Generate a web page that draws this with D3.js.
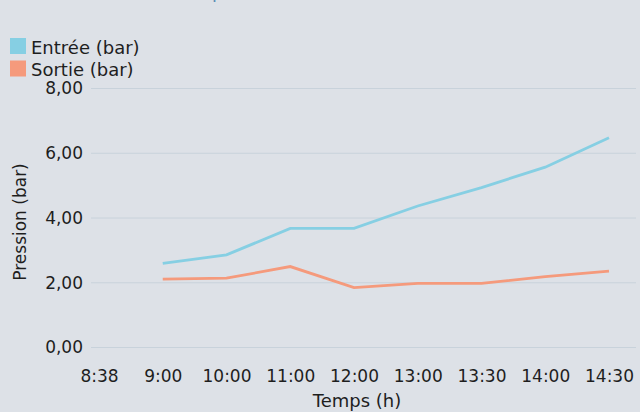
<!DOCTYPE html>
<html>
<head>
<meta charset="utf-8">
<script src="https://cdn.jsdelivr.net/npm/d3@7"></script>
<style>
  html, body { margin: 0; padding: 0; background: #dde1e7; }
  svg { display: block; }
  text { font-family: "Century Gothic", "DejaVu Sans", sans-serif; fill: #1e1e1e; }
</style>
</head>
<body>
<svg id="chart" width="640" height="412"></svg>
<script>
// Time labels along the x axis (first slot carries no reading)
const times = ["8:38", "9:00", "10:00", "11:00", "12:00", "13:00", "13:30", "14:00", "14:30"];
// Inlet and outlet pressure readings, in bar
const entreeTimes = ["9:00", "10:00", "11:00", "12:00", "13:00", "13:30", "14:00", "14:30"];
const entreeValues = [2.60, 2.86, 3.68, 3.68, 4.37, 4.94, 5.57, 6.48];
const sortieValues = [2.11, 2.14, 2.50, 1.85, 1.98, 1.98, 2.19, 2.36];
const yTicks = [0, 2, 4, 6, 8];
const seriesNames = ["Entrée (bar)", "Sortie (bar)"];
const seriesColors = ["#86cfe3", "#f59a7c"];

const svg = d3.select("#chart");
const W = 640, H = 412;
const margin = { left: 91, right: 5, top: 88.5, bottom: 64.5 };

const x = d3.scalePoint().domain(times).range([99, 609]);
const y = d3.scaleLinear().domain([0, 8]).range([H - margin.bottom, margin.top]);

const fmt = v => d3.format(".2f")(v).replace(".", ",");

// Title, sitting mostly above the visible area
const title = svg.append("text")
  .attr("y", -2)
  .style("font-size", "18px")
  .style("fill", "#5b8db5")
  .text("Suivi de la pression");
const pIdx = title.text().indexOf("p");
const pPos = title.node().getStartPositionOfChar(pIdx).x;
title.attr("x", 212 - pPos);

// Horizontal gridlines
svg.append("g")
  .selectAll("line")
  .data(yTicks)
  .join("line")
  .attr("x1", margin.left)
  .attr("x2", 636)
  .attr("y1", d => y(d))
  .attr("y2", d => y(d))
  .attr("stroke", "#c8d2db")
  .attr("stroke-width", 1);

// Y axis
const yAxis = svg.append("g")
  .attr("transform", `translate(${margin.left - 8},0)`)
  .call(d3.axisLeft(y).tickValues(yTicks).tickFormat(fmt).tickSize(0).tickPadding(0));
yAxis.select(".domain").remove();
yAxis.selectAll("text").style("font-size", "17px").attr("fill", "#1e1e1e");

// X axis
const xAxis = svg.append("g")
  .attr("transform", `translate(0,${y(0) + 22})`)
  .call(d3.axisBottom(x).tickSize(0).tickPadding(0));
xAxis.select(".domain").remove();
xAxis.selectAll("text").style("font-size", "17px").attr("fill", "#1e1e1e");

// Axis titles
svg.append("text")
  .attr("x", 357)
  .attr("y", 407)
  .attr("text-anchor", "middle")
  .style("font-size", "18px")
  .text("Temps (h)");

svg.append("text")
  .attr("transform", "translate(26,222) rotate(-90)")
  .attr("text-anchor", "middle")
  .style("font-size", "17px")
  .text("Pression (bar)");

// Lines
const line = d3.line()
  .x(d => x(d.t))
  .y(d => y(d.v));

[entreeValues, sortieValues].forEach((vals, i) => {
  const pts = entreeTimes.map((t, j) => ({ t, v: vals[j] }));
  svg.append("path")
    .datum(pts)
    .attr("d", line)
    .attr("fill", "none")
    .attr("stroke", seriesColors[i])
    .attr("stroke-width", 2.8)
    .attr("stroke-linejoin", "miter");
});

// Legend
const legend = svg.append("g")
  .selectAll("g")
  .data(seriesNames)
  .join("g")
  .attr("transform", (d, i) => `translate(10,${38 + i * 22.5})`);
legend.append("rect")
  .attr("width", 16)
  .attr("height", 16)
  .attr("fill", (d, i) => seriesColors[i]);
legend.append("text")
  .attr("x", 21)
  .attr("y", 15.5)
  .style("font-size", "18px")
  .text(d => d);
</script>
</body>
</html>
